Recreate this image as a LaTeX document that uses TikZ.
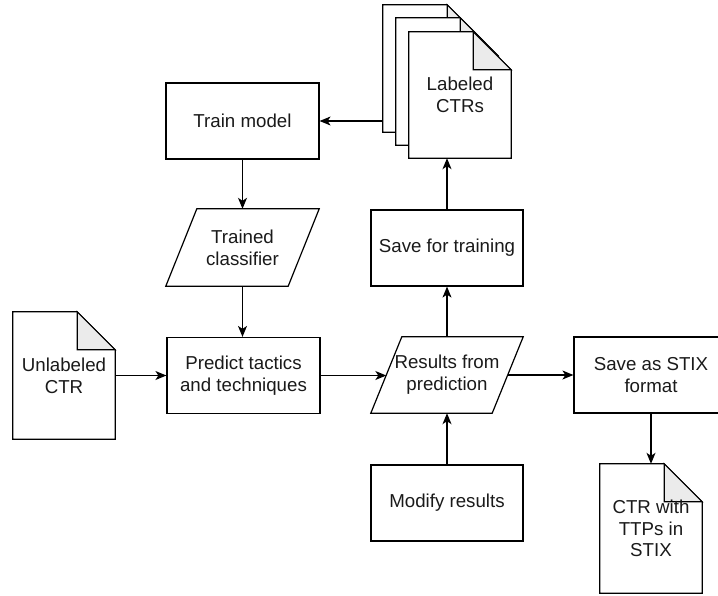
\documentclass[tikz,border=0pt]{standalone}
\usepackage{fontspec}
\setmainfont{Liberation Sans}
\usetikzlibrary{arrows.meta,backgrounds,calc}
\definecolor{foldgray}{HTML}{EBEBEB}
\definecolor{txt}{HTML}{1A1A1A}
\tikzset{
  box/.style={draw=black, line width=1.2pt, fill=white, inner sep=0pt, minimum width=#1, minimum height=76pt, align=center, text=txt, font=\fontsize{18.7}{21.7}\selectfont},
  box/.default=153pt,
  plain/.style={draw=none, inner sep=0pt, align=center, text=txt, font=\fontsize{18.7}{21.7}\selectfont},
  arr/.style={line width=1.2pt, -{Stealth[length=11pt,width=9pt,inset=3pt]}},
  shp/.style={line width=1.2pt, draw=black},
}
\newcommand\drawdoc[1]{%
  \filldraw[shp, fill=white] (#1.north west) -- ([xshift=-38pt]#1.north east) -- ([yshift=-38pt]#1.north east) -- (#1.south east) -- (#1.south west) -- cycle;
  \filldraw[shp, fill=foldgray] ([xshift=-38pt]#1.north east) -- ([xshift=-38pt,yshift=-38pt]#1.north east) -- ([yshift=-38pt]#1.north east) -- cycle;
}
\newcommand\drawpar[1]{%
  \filldraw[shp, fill=white] ([xshift=31pt]#1.north west) -- (#1.north east) -- ([xshift=-31pt]#1.south east) -- (#1.south west) -- cycle;
}
\begin{document}
\begin{tikzpicture}[x=1pt, y=-1pt]
\clip (0,0) rectangle (718,595);

% process boxes
\node[box] (train) at (242.5,121) {Train model};
\node[box] (pred) at (243.5,375.5) {Predict tactics\\and techniques};
\node[box=152pt] (save) at (447,248) {Save for training};
\node[box=152pt] (mod) at (447,503) {Modify results};
\node[box=154pt] (stix) at (651,375) {Save as STIX\\format};

% parallelograms
\node[plain, minimum width=153pt, minimum height=77pt] (cls) at (242.5,247.5) {Trained\\classifier};
\node[plain, minimum width=152pt, minimum height=76pt] (res) at (447,375) {Results from\\prediction};

% documents
\node[plain, minimum width=102pt, minimum height=127pt] (unl) at (64,375.5) {Unlabeled\\CTR};
\node[plain, minimum width=102pt, minimum height=129pt] (ctr) at (651,528.5) {CTR with\\TTPs in\\STIX};
\node[plain, minimum width=102pt, minimum height=127pt] (lab3) at (434,68.5) {};
\node[plain, minimum width=102pt, minimum height=127pt] (lab2) at (447,81.5) {};
\node[plain, minimum width=102pt, minimum height=126pt] (lab1) at (460,95) {Labeled\\CTRs};

\begin{scope}[on background layer]
  \fill[white] (0,0) rectangle (718,595);
  \drawpar{cls}
  \drawpar{res}
  \drawdoc{unl}
  \drawdoc{ctr}
  \drawdoc{lab3}
  \drawdoc{lab2}
  \drawdoc{lab1}
\end{scope}

\coordinate (resL) at ($(res.west)+(15.5,0)$);
\coordinate (resR) at ($(res.east)+(-15.5,0)$);

% connectors
\draw[arr] (lab3.west |- train.east) -- (train.east);
\draw[arr] (train.south) -- (train.south -| cls.north) -- (cls.north);
\draw[arr] (cls.south) -- (pred.north -| cls.south);
\draw[arr] (unl.east |- pred.west) -- (pred.west);
\draw[arr] (pred.east) -- (pred.east -| resL);
\draw[arr] (res.north) -- (save.south);
\draw[arr] (save.north) -- (save.north |- lab1.south);
\draw[arr] (mod.north) -- (res.south);
\draw[arr] (resR) -- (stix.west |- resR);
\draw[arr] (stix.south) -- (ctr.north);
\end{tikzpicture}
\end{document}
